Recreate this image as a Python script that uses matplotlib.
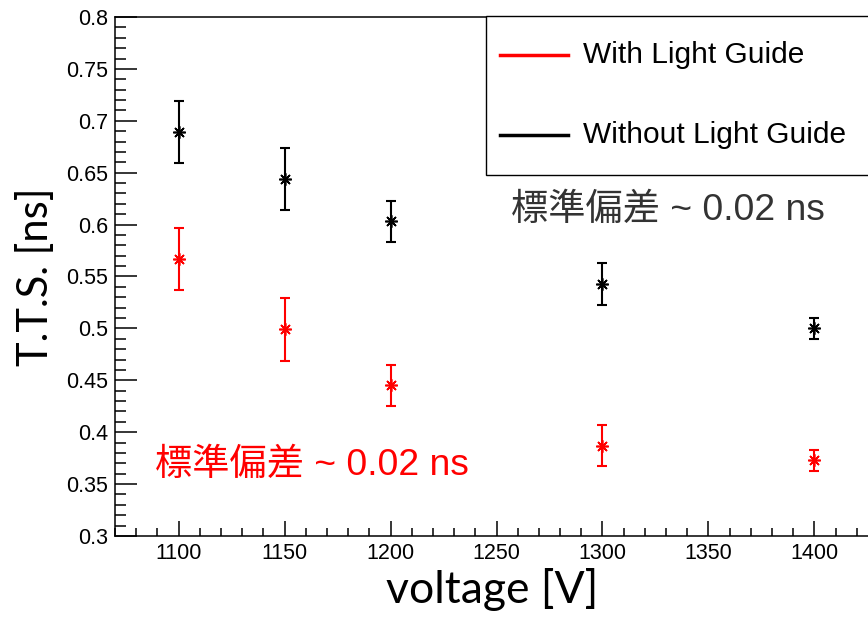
import matplotlib
matplotlib.use("Agg")
import matplotlib.pyplot as plt
from matplotlib.lines import Line2D
from matplotlib.patches import Rectangle
from matplotlib.ticker import MultipleLocator

# T.T.S. vs voltage
voltage = [1100, 1150, 1200, 1300, 1400]
tts_with = [0.567, 0.499, 0.445, 0.387, 0.373]
err_with = [0.030, 0.030, 0.020, 0.020, 0.010]
tts_without = [0.689, 0.644, 0.603, 0.543, 0.500]
err_without = [0.030, 0.030, 0.020, 0.020, 0.010]

labels = ["With Light Guide", "Without Light Guide"]
note = "標準偏差 ~ 0.02 ns"

plt.rcParams['font.family'] = ['Liberation Sans', 'DejaVu Sans']

W, H = 868, 617
fig = plt.figure(figsize=(W / 100, H / 100), dpi=100)
# frame runs a little past the right edge of the picture, like the original crop
ax = fig.add_axes([115 / W, 81 / H, 763 / W, 519 / H])

ast = (8, 2, 0)  # ROOT-like asterisk marker
ax.errorbar(voltage, tts_without, yerr=err_without, fmt='none', ecolor='black',
            elinewidth=1.5, capsize=3.5, capthick=1.5)
ax.plot(voltage, tts_without, ls='none', marker=ast, ms=9, mew=1.2, color='black')
ax.errorbar(voltage, tts_with, yerr=err_with, fmt='none', ecolor='red',
            elinewidth=1.5, capsize=3.5, capthick=1.5)
ax.plot(voltage, tts_with, ls='none', marker=ast, ms=9, mew=1.2, color='red')

ax.set_xlim(1070, 1430)
ax.set_ylim(0.3, 0.8)
ax.xaxis.set_major_locator(MultipleLocator(50))
ax.xaxis.set_minor_locator(MultipleLocator(10))
ax.yaxis.set_major_locator(MultipleLocator(0.05))
ax.yaxis.set_minor_locator(MultipleLocator(0.01))
ax.yaxis.set_major_formatter(plt.FuncFormatter(lambda v, p: ('%.2f' % v).rstrip('0').rstrip('.')))

for s in ax.spines.values():
    s.set_linewidth(1.1)
ax.tick_params(which='both', direction='in', top=False, right=False, labelsize=15.5, pad=5)
ax.tick_params(axis='x', which='major', length=11, width=1.1)
ax.tick_params(axis='x', which='minor', length=6, width=1.1)
ax.tick_params(axis='y', which='major', length=16, width=1.1)
ax.tick_params(axis='y', which='minor', length=8, width=1.1)

ax.set_xlabel("voltage [V]", fontsize=32, family=['Lato', 'DejaVu Sans'])
ax.xaxis.set_label_coords(0.494, -0.062)
ax.set_ylabel("T.T.S. [ns]", fontsize=30, family=['Lato', 'DejaVu Sans'])
ax.yaxis.set_label_coords(-0.079, 0.5)

jp = ['Liberation Sans', 'Noto Sans CJK JP', 'DejaVu Sans']
ax.text(1257, 0.614, note, color='#333333', fontsize=26.8, family=jp, va='center', ha='left')
ax.text(1089, 0.368, note, color='red', fontsize=26.8, family=jp, va='center', ha='left')

# legend box drawn in figure pixels to sit like the ROOT TLegend
fig.patches.append(Rectangle((486 / W, 1 - 175 / H), 400 / W, 159 / H, transform=fig.transFigure,
                             facecolor='white', edgecolor='black', lw=1.0, zorder=5))
for lab, col, yy in zip(labels, ['red', 'black'], [55, 135]):
    fig.lines.append(Line2D([500 / W, 568 / W], [1 - yy / H, 1 - yy / H], transform=fig.transFigure,
                            color=col, lw=2.5, zorder=6))
    fig.text(583 / W, 1 - yy / H, lab, fontsize=21.5, va='center', ha='left', zorder=6)

fig.savefig("out.png", dpi=100)
